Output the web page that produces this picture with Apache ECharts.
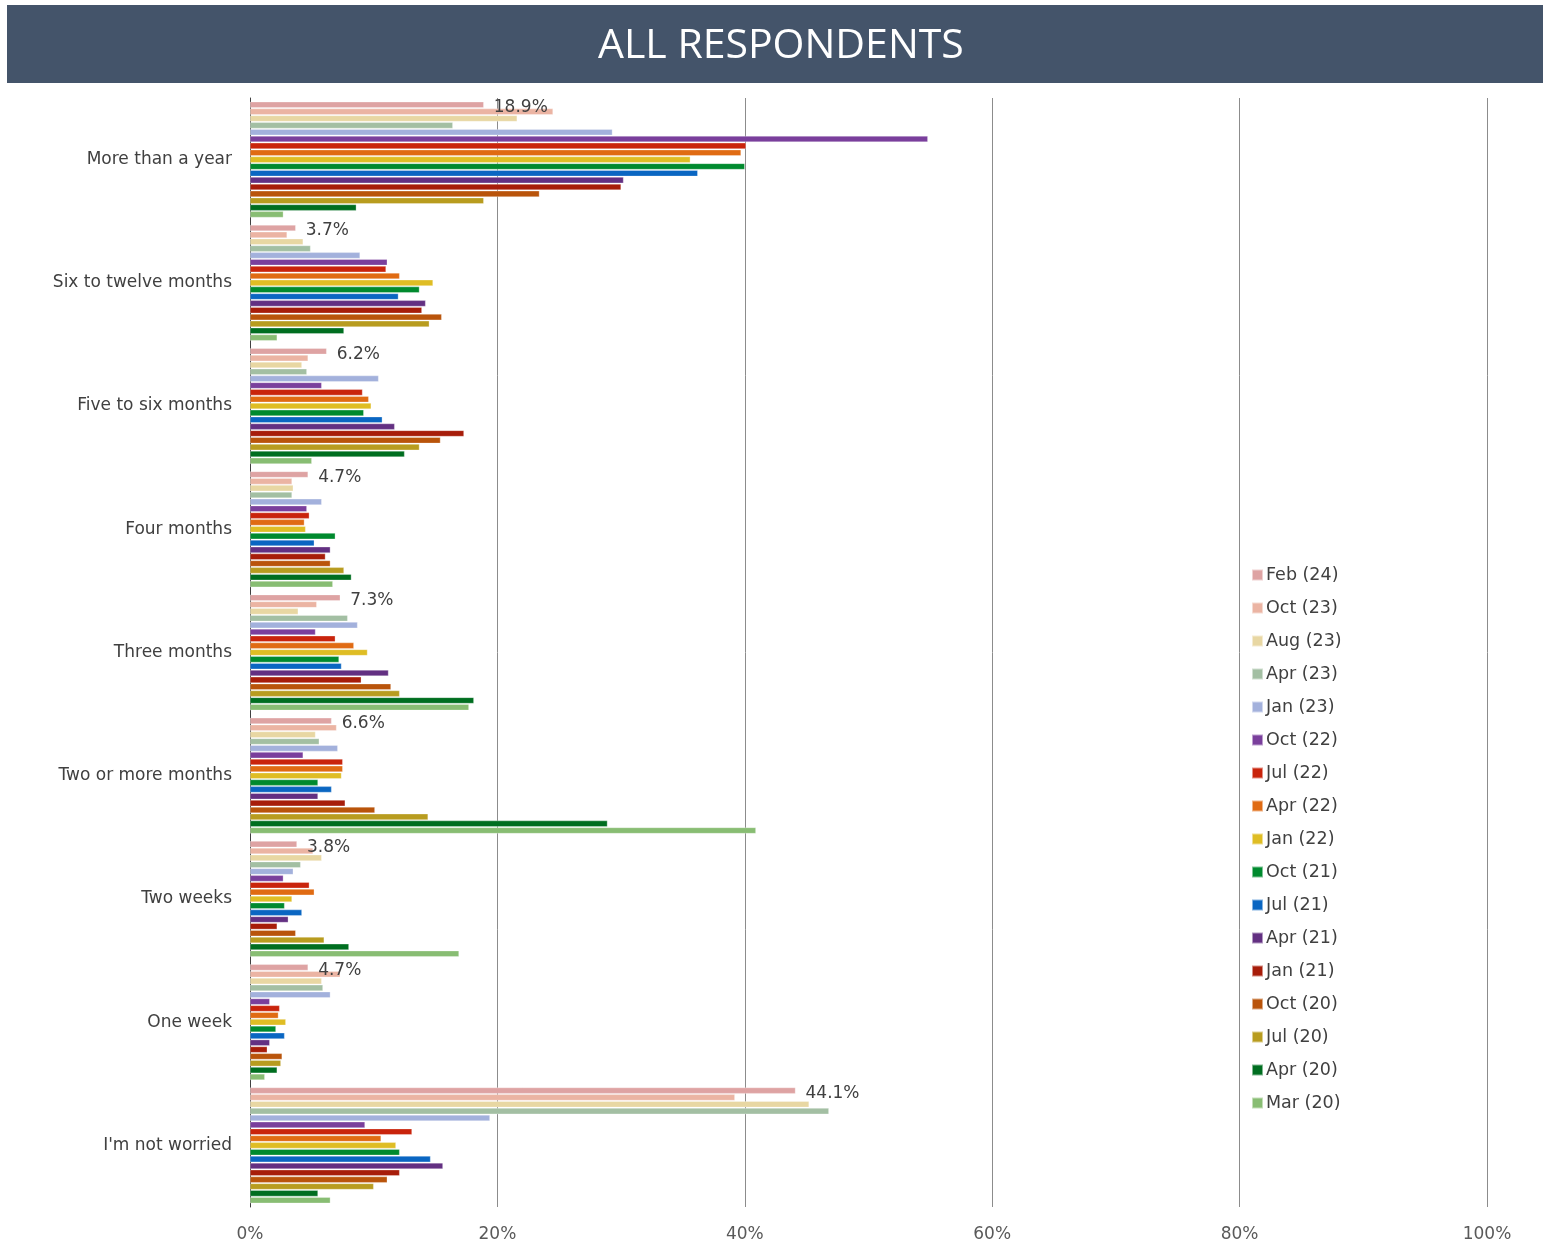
<!DOCTYPE html>
<html>
<head>
<meta charset="utf-8">
<script src="https://cdn.jsdelivr.net/npm/echarts@6/dist/echarts.min.js"></script>
<style>
html,body{margin:0;padding:0;background:#fff;}
#main{width:1543px;height:1243px;}
</style>
</head>
<body>
<div id="main"></div>
<script>
const categories = ["More than a year","Six to twelve months","Five to six months","Four months","Three months","Two or more months","Two weeks","One week","I'm not worried"];
const seriesNames = ["Feb (24)","Oct (23)","Aug (23)","Apr (23)","Jan (23)","Oct (22)","Jul (22)","Apr (22)","Jan (22)","Oct (21)","Jul (21)","Apr (21)","Jan (21)","Oct (20)","Jul (20)","Apr (20)","Mar (20)"];
const seriesColors = ["#dea3a3","#ebb4a3","#e8d7a3","#a3bfa3","#a3b1dc","#7a3f9c","#c9240c","#e06b13","#dfbd24","#008a2e","#0a66c2","#633082","#a71d0a","#b9540b","#b89c1f","#006e20","#88bd73"];
const xTickLabels = ["0%","20%","40%","60%","80%","100%"];

const feb24 = [18.9, 3.7, 6.2, 4.7, 7.3, 6.6, 3.8, 4.7, 44.1];
const oct23 = [24.5, 3.0, 4.7, 3.4, 5.4, 7.0, 5.1, 7.3, 39.2];
const aug23 = [21.6, 4.3, 4.2, 3.5, 3.9, 5.3, 5.8, 5.8, 45.2];
const apr23 = [16.4, 4.9, 4.6, 3.4, 7.9, 5.6, 4.1, 5.9, 46.8];
const jan23 = [29.3, 8.9, 10.4, 5.8, 8.7, 7.1, 3.5, 6.5, 19.4];
const oct22 = [54.8, 11.1, 5.8, 4.6, 5.3, 4.3, 2.7, 1.6, 9.3];
const jul22 = [40.1, 11.0, 9.1, 4.8, 6.9, 7.5, 4.8, 2.4, 13.1];
const apr22 = [39.7, 12.1, 9.6, 4.4, 8.4, 7.5, 5.2, 2.3, 10.6];
const jan22 = [35.6, 14.8, 9.8, 4.5, 9.5, 7.4, 3.4, 2.9, 11.8];
const oct21 = [40.0, 13.7, 9.2, 6.9, 7.2, 5.5, 2.8, 2.1, 12.1];
const jul21 = [36.2, 12.0, 10.7, 5.2, 7.4, 6.6, 4.2, 2.8, 14.6];
const apr21 = [30.2, 14.2, 11.7, 6.5, 11.2, 5.5, 3.1, 1.6, 15.6];
const jan21 = [30.0, 13.9, 17.3, 6.1, 9.0, 7.7, 2.2, 1.4, 12.1];
const oct20 = [23.4, 15.5, 15.4, 6.5, 11.4, 10.1, 3.7, 2.6, 11.1];
const jul20 = [18.9, 14.5, 13.7, 7.6, 12.1, 14.4, 6.0, 2.5, 10.0];
const apr20 = [8.6, 7.6, 12.5, 8.2, 18.1, 28.9, 8.0, 2.2, 5.5];
const mar20 = [2.7, 2.2, 5.0, 6.7, 17.7, 40.9, 16.9, 1.2, 6.5];

const seriesData = [feb24, oct23, aug23, apr23, jan23, oct22, jul22, apr22, jan22, oct21, jul21, apr21, jan21, oct20, jul20, apr20, mar20];

const chart = echarts.init(document.getElementById('main'), null, {renderer: 'canvas'});
const FONT = 'DejaVu Sans';

const series = seriesNames.map((name, i) => ({
  name: name,
  type: 'bar',
  data: seriesData[i],
  barGap: '10%',
  barCategoryGap: '6%',
  itemStyle: { color: seriesColors[i], borderColor: 'rgba(255,255,255,0.5)', borderWidth: 0.6 },
  label: i === 0 ? {
    show: true, position: 'right', distance: 10, offset: [0, 3],
    formatter: p => p.value.toFixed(1) + '%',
    fontFamily: FONT, fontSize: 17, color: '#404040'
  } : { show: false },
  animation: false
}));

chart.setOption({
  animation: false,
  backgroundColor: '#fff',
  graphic: [
    { type: 'rect', left: 7, top: 5, shape: { width: 1536, height: 78 }, style: { fill: '#44546a' }, z: 0 },
    { type: 'text', left: 598, top: 26, style: { text: 'ALL RESPONDENTS', fill: '#ffffff', font: '41px "Open Sans"' }, z: 1 }
  ],
  grid: { left: 250, right: 56, top: 98, bottom: 36, containLabel: false },
  legend: {
    orient: 'vertical', left: 1251, top: 565, padding: 0,
    itemWidth: 11, itemHeight: 11, itemGap: 13,
    icon: 'rect',
    textStyle: { fontFamily: FONT, fontSize: 17.5, color: '#404040', lineHeight: 20, padding: [0,0,0,-2] },
    data: seriesNames
  },
  xAxis: {
    type: 'value', min: 0, max: 100, interval: 20,
    axisLabel: { formatter: v => xTickLabels[v / 20], fontFamily: FONT, fontSize: 17, color: '#595959', margin: 19 },
    splitLine: { show: true, lineStyle: { color: '#8c8c8c', width: 1 } },
    axisLine: { show: false }, axisTick: { show: false }
  },
  yAxis: {
    type: 'category', data: categories, inverse: true,
    axisLabel: { fontFamily: FONT, fontSize: 17, color: '#404040', margin: 18, padding: [3, 0, 0, 0] },
    axisLine: { show: true, lineStyle: { color: '#404040', width: 1 } },
    axisTick: { show: false }
  },
  series: series
});
</script>
</body>
</html>
